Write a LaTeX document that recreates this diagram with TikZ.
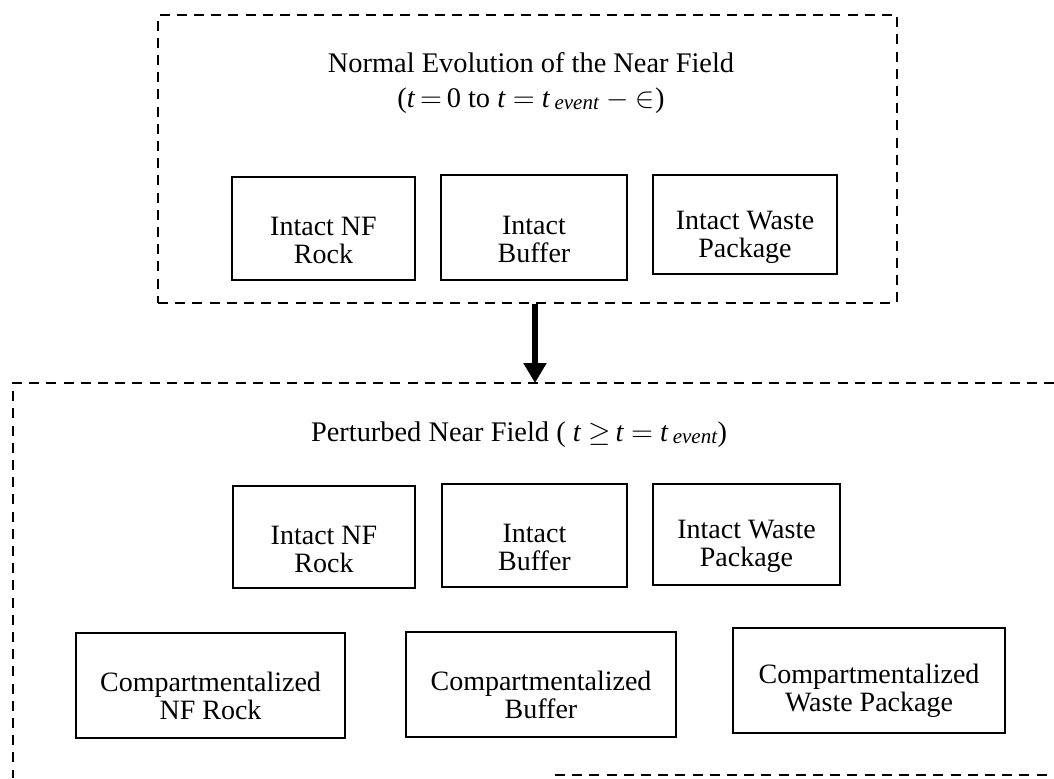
\documentclass[tikz,border=0pt]{standalone}
\usepackage{fontspec}
\setmainfont{Liberation Serif}
\usetikzlibrary{arrows.meta}
\newcommand{\tev}{\textit{t}\hspace{0.15em}\raisebox{-0.15ex}{\fontsize{10.5}{10.5}\selectfont\textit{event}}}
\begin{document}
\begin{tikzpicture}[x=0.5pt,y=-0.5pt,
  box/.style={draw,line width=1.3pt,inner sep=0pt},
  boxtext/.style={align=center,inner sep=0pt,font=\fontsize{14}{14}\selectfont},
  dashbox/.style={draw,line width=1.2pt,dash pattern=on 5pt off 3.6pt},
  ttl/.style={align=center,inner sep=0pt,font=\fontsize{14.2}{17.5}\selectfont},
  bigarrow/.style={line width=2.6pt,-{Triangle[length=10pt,width=11pt]}}]
\useasboundingbox (0,0) rectangle (1054,778);
% top container
\node[dashbox,minimum width=369.5pt,minimum height=144pt,inner sep=0pt] (normal) at (527.5,159) {};
\node[ttl] (t1) at (531,83) {Normal Evolution of the Near Field\\
  (\textit{t}\,$=$\,0 to \textit{t} $=$ \tev\ $-$ $\in$)};
\node[box,minimum width=91.5pt,minimum height=51.5pt] (a1) at (323.5,228.5) {};
\node[box,minimum width=93pt,minimum height=52.5pt] (a2) at (534,227.5) {};
\node[box,minimum width=92pt,minimum height=49.5pt] (a3) at (745,224.5) {};
\node[boxtext] (a1t) at ([yshift=-6pt]a1.center) {Intact NF\\Rock};
\node[boxtext] (a2t) at ([yshift=-6pt]a2.center) {Intact\\Buffer};
\node[boxtext] (a3t) at ([yshift=-6.5pt]a3.center) {Intact Waste\\Package};
% bottom container (open)
\coordinate (ptl) at (13,383);
\coordinate (ptr) at (1054,383);
\coordinate (pbl) at (13,778);
\coordinate (pbs) at (555,775);
\coordinate (pbe) at (1054,775);
\coordinate (pin) at (535,383);
\draw[dashbox] (ptr) -- (ptl) -- (pbl);
\draw[dashbox] (pbs) -- (pbe);
\node[ttl] (t2) at (519,435) {Perturbed Near Field ( \textit{t} $\geq$\,\textit{t} $=$ \tev)};
\node[box,minimum width=91pt,minimum height=51pt] (b1) at (324,537) {};
\node[box,minimum width=92.5pt,minimum height=51.5pt] (b2) at (534.5,535.5) {};
\node[box,minimum width=93.5pt,minimum height=50.5pt] (b3) at (746.5,534.5) {};
\node[boxtext] (b1t) at ([yshift=-6pt]b1.center) {Intact NF\\Rock};
\node[boxtext] (b2t) at ([yshift=-6pt]b2.center) {Intact\\Buffer};
\node[boxtext] (b3t) at ([yshift=-6pt]b3.center) {Intact Waste\\Package};
\node[box,minimum width=134.5pt,minimum height=52.5pt] (c1) at (210.5,685.5) {};
\node[box,minimum width=135pt,minimum height=52.5pt] (c2) at (541,684.5) {};
\node[box,minimum width=136pt,minimum height=52.5pt] (c3) at (869,680.5) {};
\node[boxtext] (c1t) at ([yshift=-5pt]c1.center) {Compartmentalized\\NF Rock};
\node[boxtext] (c2t) at ([yshift=-5pt]c2.center) {Compartmentalized\\Buffer};
\node[boxtext] (c3t) at ([yshift=-5pt]c3.center) {Compartmentalized\\Waste Package};
% arrow
\draw[bigarrow] (normal.south -| pin) -- (pin);
\end{tikzpicture}
\end{document}
